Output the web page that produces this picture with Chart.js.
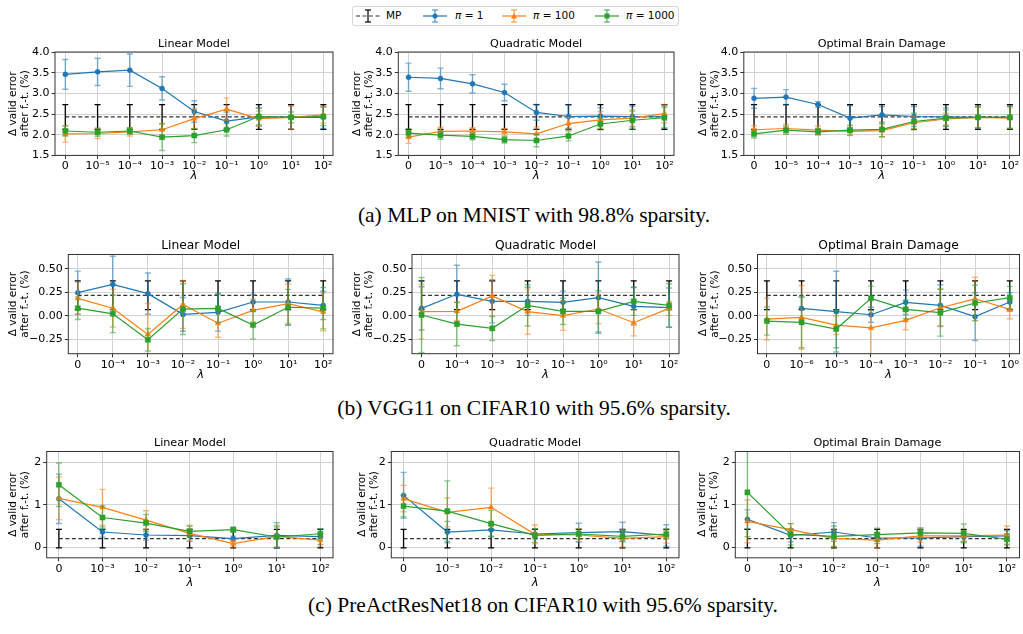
<!DOCTYPE html>
<html>
<head>
<meta charset="utf-8">
<script src="https://cdn.jsdelivr.net/npm/chart.js@4.4.0/dist/chart.umd.min.js"></script>
<style>
  body { margin: 0; background: #fff; }
  #page { position: relative; width: 1023px; height: 634px; overflow: hidden; background: #fff; font-family: "DejaVu Sans"; }
  #page canvas { position: absolute; }
  .caption { position: absolute; width: 700px; text-align: center; font-family: "Liberation Serif"; font-size: 21.5px; line-height: 24px; color: #000; white-space: nowrap; }
  #legend { position: absolute; left: 352px; top: 6px; width: 325px; height: 18px; border: 1px solid #d6d6d6; border-radius: 3px; }
  .lg-icon { position: absolute; top: 9px; }
  .lg-text { position: absolute; top: 8px; font-size: 10.5px; line-height: 14px; color: #000; }
</style>
</head>
<body>
<div id="page">
  <div id="legend"></div>
  <svg class="lg-icon" style="left:356px" width="24" height="14">
    <line x1="0" y1="7" x2="24" y2="7" stroke="#333" stroke-width="1.2" stroke-dasharray="4,2.5"/>
    <line x1="12" y1="1" x2="12" y2="13" stroke="#000" stroke-width="1.2"/>
    <line x1="9" y1="1" x2="15" y2="1" stroke="#000" stroke-width="1.2"/>
    <line x1="9" y1="13" x2="15" y2="13" stroke="#000" stroke-width="1.2"/>
  </svg>
  <span class="lg-text" style="left:386px">MP</span>
  <svg class="lg-icon" style="left:423px" width="24" height="14">
    <line x1="0" y1="7" x2="24" y2="7" stroke="#1f77b4" stroke-width="1.2"/>
    <line x1="12" y1="1" x2="12" y2="13" stroke="rgba(31,119,180,0.6)" stroke-width="1.5"/>
    <line x1="9" y1="1" x2="15" y2="1" stroke="rgba(31,119,180,0.6)" stroke-width="1.5"/>
    <line x1="9" y1="13" x2="15" y2="13" stroke="rgba(31,119,180,0.6)" stroke-width="1.5"/>
    <circle cx="12" cy="7" r="2.5" fill="#1f77b4"/>
  </svg>
  <span class="lg-text" style="left:455px"><i>π</i> = 1</span>
  <svg class="lg-icon" style="left:502px" width="24" height="14">
    <line x1="0" y1="7" x2="24" y2="7" stroke="#ff7f0e" stroke-width="1.2"/>
    <line x1="12" y1="1" x2="12" y2="13" stroke="rgba(255,127,14,0.6)" stroke-width="1.5"/>
    <line x1="9" y1="1" x2="15" y2="1" stroke="rgba(255,127,14,0.6)" stroke-width="1.5"/>
    <line x1="9" y1="13" x2="15" y2="13" stroke="rgba(255,127,14,0.6)" stroke-width="1.5"/>
    <polygon points="12,4 15,9.5 9,9.5" fill="#ff7f0e"/>
  </svg>
  <span class="lg-text" style="left:533px"><i>π</i> = 100</span>
  <svg class="lg-icon" style="left:595px" width="24" height="14">
    <line x1="0" y1="7" x2="24" y2="7" stroke="#2ca02c" stroke-width="1.2"/>
    <line x1="12" y1="1" x2="12" y2="13" stroke="rgba(44,160,44,0.6)" stroke-width="1.5"/>
    <line x1="9" y1="1" x2="15" y2="1" stroke="rgba(44,160,44,0.6)" stroke-width="1.5"/>
    <line x1="9" y1="13" x2="15" y2="13" stroke="rgba(44,160,44,0.6)" stroke-width="1.5"/>
    <rect x="9.5" y="4.5" width="5" height="5" fill="#2ca02c"/>
  </svg>
  <span class="lg-text" style="left:626px"><i>π</i> = 1000</span>

  <div class="caption" style="left:184px; top:203px">(a) MLP on MNIST with 98.8% sparsity.</div>
  <div class="caption" style="left:184px; top:396px">(b) VGG11 on CIFAR10 with 95.6% sparsity.</div>
  <div class="caption" style="left:193px; top:593px">(c) PreActResNet18 on CIFAR10 with 95.6% sparsity.</div>
</div>

<script>
// tick labels for lambda
var lambdaMnist = ['0', '10⁻⁵', '10⁻⁴', '10⁻³', '10⁻²', '10⁻¹', '10⁰', '10¹', '10²']
var lambdaVgg = ['0', '10⁻⁴', '10⁻³', '10⁻²', '10⁻¹', '10⁰', '10¹', '10²']
var lambdaVggObd = ['0', '10⁻⁶', '10⁻⁵', '10⁻⁴', '10⁻³', '10⁻²', '10⁻¹', '10⁰']
var lambdaResnet = ['0', '10⁻³', '10⁻²', '10⁻¹', '10⁰', '10¹', '10²']

// magnitude pruning baseline (mean, std)
var mpMnist = [2.43, 2.43, 2.43, 2.43, 2.43, 2.43, 2.43, 2.43, 2.43]
var mpMnistErr = [0.30, 0.30, 0.30, 0.30, 0.30, 0.30, 0.30, 0.30, 0.30]
var mpVgg = [0.217, 0.217, 0.217, 0.217, 0.217, 0.217, 0.217, 0.217]
var mpVggErr = [0.153, 0.153, 0.153, 0.153, 0.153, 0.153, 0.153, 0.153]
var mpResnet = [0.205, 0.205, 0.205, 0.205, 0.205, 0.205, 0.205]
var mpResnetErr = [0.215, 0.215, 0.215, 0.215, 0.215, 0.215, 0.215]

// (a) MLP on MNIST
var mnistLinP1 = [3.46, 3.52, 3.56, 3.12, 2.56, 2.33, 2.43, 2.42, 2.42]
var mnistLinP1Err = [0.36, 0.33, 0.39, 0.28, 0.26, 0.22, 0.22, 0.28, 0.27]
var mnistLinP100 = [2.02, 2.03, 2.07, 2.12, 2.39, 2.62, 2.39, 2.42, 2.48]
var mnistLinP100Err = [0.20, 0.12, 0.10, 0.15, 0.25, 0.27, 0.18, 0.28, 0.20]
var mnistLinP1000 = [2.09, 2.06, 2.09, 1.94, 1.98, 2.12, 2.44, 2.42, 2.44]
var mnistLinP1000Err = [0.12, 0.10, 0.08, 0.32, 0.17, 0.15, 0.20, 0.13, 0.22]

var mnistQuadP1 = [3.39, 3.36, 3.23, 3.02, 2.54, 2.44, 2.45, 2.44, 2.43]
var mnistQuadP1Err = [0.34, 0.25, 0.22, 0.20, 0.19, 0.28, 0.20, 0.25, 0.27]
var mnistQuadP100 = [1.94, 2.08, 2.09, 2.07, 2.02, 2.27, 2.36, 2.40, 2.51]
var mnistQuadP100Err = [0.15, 0.10, 0.08, 0.08, 0.17, 0.15, 0.20, 0.20, 0.22]
var mnistQuadP1000 = [2.04, 1.99, 1.96, 1.88, 1.86, 1.97, 2.26, 2.35, 2.41]
var mnistQuadP1000Err = [0.10, 0.10, 0.08, 0.08, 0.15, 0.12, 0.14, 0.22, 0.25]

var mnistObdP1 = [2.88, 2.91, 2.73, 2.40, 2.48, 2.44, 2.43, 2.42, 2.42]
var mnistObdP1Err = [0.24, 0.18, 0.07, 0.30, 0.20, 0.24, 0.22, 0.27, 0.27]
var mnistObdP100 = [2.12, 2.15, 2.11, 2.08, 2.10, 2.29, 2.38, 2.42, 2.40]
var mnistObdP100Err = [0.10, 0.10, 0.10, 0.10, 0.15, 0.15, 0.14, 0.25, 0.25]
var mnistObdP1000 = [2.02, 2.11, 2.07, 2.11, 2.13, 2.32, 2.40, 2.42, 2.42]
var mnistObdP1000Err = [0.10, 0.10, 0.08, 0.12, 0.18, 0.20, 0.20, 0.25, 0.27]

// (b) VGG11 on CIFAR10
var vggLinP1 = [0.245, 0.334, 0.235, 0.014, 0.036, 0.146, 0.146, 0.11]
var vggLinP1Err = [0.23, 0.30, 0.22, 0.18, 0.20, 0.08, 0.245, 0.15]
var vggLinP100 = [0.185, 0.08, -0.20, 0.12, -0.08, 0.057, 0.128, 0.04]
var vggLinP100Err = [0.17, 0.20, 0.33, 0.255, 0.15, 0.12, 0.21, 0.20]
var vggLinP1000 = [0.08, 0.02, -0.256, 0.07, 0.078, -0.10, 0.09, 0.08]
var vggLinP1000Err = [0.12, 0.20, 0.12, 0.27, 0.15, 0.15, 0.19, 0.22]

var vggQuadP1 = [0.078, 0.228, 0.153, 0.153, 0.142, 0.192, 0.10, 0.085]
var vggQuadP1Err = [0.23, 0.31, 0.23, 0.15, 0.12, 0.38, 0.20, 0.21]
var vggQuadP100 = [0.043, 0.046, 0.21, 0.043, 0.0, 0.071, -0.075, 0.078]
var vggQuadP100Err = [0.29, 0.10, 0.22, 0.24, 0.156, 0.156, 0.14, 0.075]
var vggQuadP1000 = [0.007, -0.09, -0.135, 0.11, 0.046, 0.046, 0.153, 0.11]
var vggQuadP1000Err = [0.40, 0.23, 0.13, 0.22, 0.14, 0.22, 0.15, 0.23]

var vggObdP1 = [null, 0.078, 0.043, 0.01, 0.142, 0.11, -0.01, 0.146]
var vggObdP1Err = [null, 0.12, 0.43, 0.08, 0.13, 0.22, 0.255, 0.10]
var vggObdP100 = [-0.036, -0.018, -0.10, -0.13, -0.05, 0.085, 0.18, 0.067]
var vggObdP100Err = [0.22, 0.34, 0.10, 0.31, 0.10, 0.20, 0.23, 0.10]
var vggObdP1000 = [-0.057, -0.071, -0.142, 0.185, 0.067, 0.032, 0.135, 0.192]
var vggObdP1000Err = [0.15, 0.27, 0.20, 0.13, 0.10, 0.25, 0.19, 0.12]

// (c) PreActResNet18 on CIFAR10
var resLinP1 = [1.14, 0.36, 0.29, 0.275, 0.204, 0.28, 0.25]
var resLinP1Err = [0.58, 0.12, 0.12, 0.13, 0.06, 0.30, 0.18]
var resLinP100 = [1.15, 0.94, 0.64, 0.33, 0.086, 0.26, 0.17]
var resLinP100Err = [0.50, 0.42, 0.22, 0.19, 0.08, 0.26, 0.15]
var resLinP1000 = [1.47, 0.70, 0.57, 0.376, 0.416, 0.243, 0.32]
var resLinP1000Err = [0.51, 0.27, 0.20, 0.12, 0.06, 0.24, 0.12]

var resQuadP1 = [1.22, 0.36, 0.41, 0.314, 0.345, 0.37, 0.28]
var resQuadP1Err = [0.54, 0.25, 0.15, 0.12, 0.22, 0.22, 0.25]
var resQuadP100 = [1.145, 0.82, 0.94, 0.306, 0.29, 0.21, 0.25]
var resQuadP100Err = [0.31, 0.34, 0.45, 0.22, 0.15, 0.20, 0.15]
var resQuadP1000 = [0.97, 0.85, 0.557, 0.28, 0.314, 0.26, 0.314]
var resQuadP1000Err = [0.25, 0.71, 0.31, 0.16, 0.12, 0.13, 0.12]

var resObdP1 = [0.66, 0.28, 0.36, 0.22, 0.22, 0.25, 0.27]
var resObdP1Err = [0.22, 0.15, 0.22, 0.13, 0.20, 0.12, 0.12]
var resObdP100 = [0.61, 0.416, 0.21, 0.17, 0.27, 0.27, 0.29]
var resObdP100Err = [0.50, 0.14, 0.20, 0.17, 0.15, 0.12, 0.21]
var resObdP1000 = [1.29, 0.306, 0.26, 0.30, 0.34, 0.33, 0.19]
var resObdP1000Err = [1.04, 0.25, 0.24, 0.15, 0.12, 0.22, 0.13]

var BLUE = '#1f77b4', ORANGE = '#ff7f0e', GREEN = '#2ca02c'
var FONT = 'DejaVu Sans'

// error bars drawn through the chart scales, right before each dataset
var errorBars = {
  id: 'errorBars',
  beforeDatasetDraw: function(chart, args) {
    var ds = chart.data.datasets[args.index]
    if (!ds.errors) return
    var xs = chart.scales.x, ys = chart.scales.y, ctx = chart.ctx, a = chart.chartArea
    ctx.save()
    ctx.beginPath()
    ctx.rect(a.left, a.top, a.right - a.left, a.bottom - a.top)
    ctx.clip()
    ctx.strokeStyle = ds.errorColor
    ctx.lineWidth = ds.errorWidth
    ds.data.forEach(function(p, i) {
      if (p.y == null || ds.errors[i] == null) return
      var px = xs.getPixelForValue(p.x)
      var top = ys.getPixelForValue(p.y + ds.errors[i])
      var bot = ys.getPixelForValue(p.y - ds.errors[i])
      ctx.beginPath()
      ctx.moveTo(px, top); ctx.lineTo(px, bot)
      ctx.moveTo(px - 3, top); ctx.lineTo(px + 3, top)
      ctx.moveTo(px - 3, bot); ctx.lineTo(px + 3, bot)
      ctx.stroke()
    })
    ctx.restore()
  }
}

// full box around the axes, like matplotlib spines
var frame = {
  id: 'frame',
  afterDraw: function(chart) {
    var a = chart.chartArea, ctx = chart.ctx
    ctx.save()
    ctx.strokeStyle = '#333'
    ctx.lineWidth = 1
    ctx.strokeRect(a.left, a.top, a.right - a.left, a.bottom - a.top)
    ctx.restore()
  }
}

function toPoints(values) {
  return values.map(function(v, i) { return { x: i, y: v } })
}

function series(values, errors, color, errColor, style, radius, order) {
  return {
    data: toPoints(values),
    errors: errors,
    errorColor: errColor,
    errorWidth: 1.4,
    borderColor: color,
    backgroundColor: color,
    borderWidth: 1.2,
    pointStyle: style,
    pointRadius: radius,
    pointBorderWidth: 0.5,
    order: order
  }
}

function showPanel(p) {
  var canvasTop = p.areaTop - p.titleH
  var canvas = document.createElement('canvas')
  canvas.width = Math.round(p.areaRight - p.left + p.padRight)
  canvas.height = Math.round(p.areaBottom - canvasTop + p.xH)
  canvas.style.left = p.left + 'px'
  canvas.style.top = canvasTop + 'px'
  document.getElementById('page').appendChild(canvas)

  var labels = p.labels
  new Chart(canvas.getContext('2d'), {
    type: 'line',
    data: {
      datasets: [
        {
          data: toPoints(p.mp), errors: p.mpErr, errorColor: '#000', errorWidth: 1.3,
          borderColor: '#333', borderWidth: 1.2, borderDash: [4, 2.5], pointRadius: 0, order: 4
        },
        series(p.p1, p.p1Err, BLUE, 'rgba(31,119,180,0.55)', 'circle', 2.5, 3),
        series(p.p100, p.p100Err, ORANGE, 'rgba(255,127,14,0.55)', 'triangle', 3.2, 2),
        series(p.p1000, p.p1000Err, GREEN, 'rgba(44,160,44,0.55)', 'rect', 3.6, 1)
      ]
    },
    plugins: [errorBars, frame],
    options: {
      responsive: false,
      animation: false,
      devicePixelRatio: 1,
      layout: { padding: { left: 0, right: p.padRight, top: 0, bottom: 0 } },
      plugins: {
        legend: { display: false },
        tooltip: { enabled: false },
        title: {
          display: true, text: p.title, fullSize: false, color: '#000',
          font: { family: FONT, size: p.titleSize, weight: 'normal', lineHeight: 1.2 },
          padding: { top: 0, bottom: p.titleH - p.titleSize * 1.2 }
        }
      },
      scales: {
        x: {
          type: 'linear', min: p.xMin, max: p.xMax, offset: false,
          afterFit: function(scale) { scale.height = p.xH },
          grid: { color: '#d2d2d2', lineWidth: 1, tickColor: '#333', tickLength: 3.5 },
          border: { display: false },
          ticks: {
            stepSize: 1, includeBounds: false, autoSkip: false, maxRotation: 0, minRotation: 0,
            padding: 1, color: '#000', font: { family: FONT, size: p.tickSize },
            callback: function(v) { return labels[v] }
          },
          title: {
            display: true, text: 'λ', color: '#000', padding: { top: 0, bottom: 0 },
            font: { family: FONT, size: 11.5, style: 'italic', lineHeight: 1.2 }
          }
        },
        y: {
          min: p.yMin, max: p.yMax,
          afterFit: function(scale) { scale.width = p.areaLeft - p.left },
          grid: { color: '#d2d2d2', lineWidth: 1, tickColor: '#333', tickLength: 3.5 },
          border: { display: false },
          ticks: {
            stepSize: p.yStep, includeBounds: false, padding: 2, color: '#000',
            font: { family: FONT, size: p.tickSize },
            callback: function(v) {
              var s = v.toFixed(p.yDigits)
              return v < 0 ? '\u2212' + s.slice(1) : s
            }
          },
          title: {
            display: true, text: ['Δ valid error', 'after f.-t. (%)'], color: '#000',
            padding: { top: 6.7, bottom: 0 },
            font: { family: FONT, size: 10.5, lineHeight: 1.2 }
          }
        }
      }
    }
  })
}

var rowA = { areaTop: 52.3, areaBottom: 155.7, titleH: 15, titleSize: 11.2, xH: 27.6, tickSize: 11,
  yMin: 1.5, yMax: 4.0, yStep: 0.5, yDigits: 1, xMin: -0.32, xMax: 8.3, labels: lambdaMnist, mp: mpMnist, mpErr: mpMnistErr }
var rowB = { areaTop: 254, areaBottom: 353.3, titleH: 16.5, titleSize: 12.3, xH: 28.3, tickSize: 11,
  yMin: -0.405, yMax: 0.652, yStep: 0.25, yDigits: 2, xMin: -0.27, xMax: 7.28, mp: mpVgg, mpErr: mpVggErr }
var rowC = { areaTop: 451.7, areaBottom: 557.7, titleH: 15.5, titleSize: 11.2, xH: 32.2, tickSize: 11,
  yMin: -0.245, yMax: 2.25, yStep: 1, yDigits: 0, xMin: -0.28, xMax: 6.29, labels: lambdaResnet, mp: mpResnet, mpErr: mpResnetErr }

function panel(row, extra) {
  return Object.assign({}, row, extra)
}

showPanel(panel(rowA, { title: 'Linear Model', left: 0, areaLeft: 55, areaRight: 333.3, padRight: 12,
  p1: mnistLinP1, p1Err: mnistLinP1Err, p100: mnistLinP100, p100Err: mnistLinP100Err, p1000: mnistLinP1000, p1000Err: mnistLinP1000Err }))
showPanel(panel(rowA, { title: 'Quadratic Model', left: 344, areaLeft: 398.3, areaRight: 673.5, padRight: 12,
  p1: mnistQuadP1, p1Err: mnistQuadP1Err, p100: mnistQuadP100, p100Err: mnistQuadP100Err, p1000: mnistQuadP1000, p1000Err: mnistQuadP1000Err }))
showPanel(panel(rowA, { title: 'Optimal Brain Damage', left: 689.5, areaLeft: 743.3, areaRight: 1019.5, padRight: 4,
  p1: mnistObdP1, p1Err: mnistObdP1Err, p100: mnistObdP100, p100Err: mnistObdP100Err, p1000: mnistObdP1000, p1000Err: mnistObdP1000Err }))

showPanel(panel(rowB, { title: 'Linear Model', left: 0, areaLeft: 68.3, areaRight: 333.3, padRight: 12, labels: lambdaVgg,
  p1: vggLinP1, p1Err: vggLinP1Err, p100: vggLinP100, p100Err: vggLinP100Err, p1000: vggLinP1000, p1000Err: vggLinP1000Err }))
showPanel(panel(rowB, { title: 'Quadratic Model', left: 343.7, areaLeft: 411.7, areaRight: 678.7, padRight: 12, labels: lambdaVgg,
  p1: vggQuadP1, p1Err: vggQuadP1Err, p100: vggQuadP100, p100Err: vggQuadP100Err, p1000: vggQuadP1000, p1000Err: vggQuadP1000Err }))
showPanel(panel(rowB, { title: 'Optimal Brain Damage', left: 689.8, areaLeft: 757.3, areaRight: 1019.5, padRight: 4, labels: lambdaVggObd,
  p1: vggObdP1, p1Err: vggObdP1Err, p100: vggObdP100, p100Err: vggObdP100Err, p1000: vggObdP1000, p1000Err: vggObdP1000Err }))

showPanel(panel(rowC, { title: 'Linear Model', left: 0, areaLeft: 46.7, areaRight: 333.3, padRight: 12,
  p1: resLinP1, p1Err: resLinP1Err, p100: resLinP100, p100Err: resLinP100Err, p1000: resLinP1000, p1000Err: resLinP1000Err }))
showPanel(panel(rowC, { title: 'Quadratic Model', left: 348.7, areaLeft: 391, areaRight: 679, padRight: 12,
  p1: resQuadP1, p1Err: resQuadP1Err, p100: resQuadP100, p100Err: resQuadP100Err, p1000: resQuadP1000, p1000Err: resQuadP1000Err }))
showPanel(panel(rowC, { title: 'Optimal Brain Damage', left: 688.7, areaLeft: 735, areaRight: 1020.5, padRight: 3,
  p1: resObdP1, p1Err: resObdP1Err, p100: resObdP100, p100Err: resObdP100Err, p1000: resObdP1000, p1000Err: resObdP1000Err }))
</script>
</body>
</html>
